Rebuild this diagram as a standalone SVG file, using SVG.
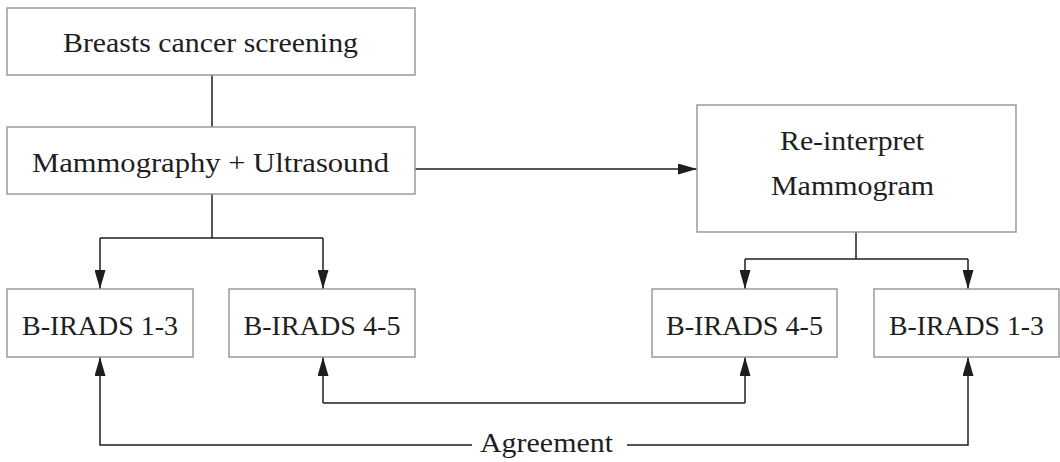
<svg xmlns="http://www.w3.org/2000/svg" width="1060" height="462" viewBox="0 0 1060 462">
<style>
.box{fill:#fff;stroke:#9a9a9a;stroke-width:1.5}
.t{font-family:"Liberation Serif","Times New Roman",serif;font-size:27px;fill:#1e1e1e;text-anchor:middle}
.c{fill:none;stroke:#1e1e1e;stroke-width:1.5}
</style>
<defs>
<marker id="ah" viewBox="0 0 19 11" refX="19" refY="5.5" markerWidth="19" markerHeight="11" markerUnits="userSpaceOnUse" orient="auto">
<path d="M0,0 L19,5.5 L0,11 Z" fill="#1e1e1e"/>
</marker>
</defs>
<rect width="1060" height="462" fill="#fff"/>
<g id="connectors">
<line class="c" x1="212" y1="75" x2="212" y2="127"/>
<path class="c" d="M212,194 V238"/>
<path class="c" d="M100,238 H323"/>
<path class="c" d="M100,238 V289" marker-end="url(#ah)"/>
<path class="c" d="M323,238 V289" marker-end="url(#ah)"/>
<path class="c" d="M415,169 H697" marker-end="url(#ah)"/>
<path class="c" d="M856,232 V259"/>
<path class="c" d="M745,259 H968"/>
<path class="c" d="M745,259 V289" marker-end="url(#ah)"/>
<path class="c" d="M968,259 V289" marker-end="url(#ah)"/>
<path class="c" d="M323,403 H745"/>
<path class="c" d="M323,403 V357" marker-end="url(#ah)"/>
<path class="c" d="M745,403 V357" marker-end="url(#ah)"/>
<path class="c" d="M472,445 H100 V357" marker-end="url(#ah)"/>
<path class="c" d="M627,445 H968 V357" marker-end="url(#ah)"/>
<text class="t" x="546.5" y="452" textLength="133" lengthAdjust="spacingAndGlyphs">Agreement</text>
</g>
<g id="screening">
<rect class="box" x="7" y="8" width="408" height="67"/>
<text class="t" x="210.5" y="52" textLength="295" lengthAdjust="spacingAndGlyphs">Breasts cancer screening</text>
</g>
<g id="mammo-us">
<rect class="box" x="7" y="127" width="408" height="67"/>
<text class="t" x="210.5" y="172" textLength="357" lengthAdjust="spacingAndGlyphs">Mammography + Ultrasound</text>
</g>
<g id="reinterpret">
<rect class="box" x="697" y="105" width="319" height="127"/>
<text class="t" x="852" y="150" textLength="144" lengthAdjust="spacingAndGlyphs">Re-interpret</text>
<text class="t" x="852.5" y="195" textLength="163" lengthAdjust="spacingAndGlyphs">Mammogram</text>
</g>
<g id="left13">
<rect class="box" x="7" y="289" width="186" height="68"/>
<text class="t" x="100" y="335" textLength="156" lengthAdjust="spacingAndGlyphs">B-IRADS 1-3</text>
</g>
<g id="left45">
<rect class="box" x="229" y="289" width="186" height="68"/>
<text class="t" x="322" y="335" textLength="157" lengthAdjust="spacingAndGlyphs">B-IRADS 4-5</text>
</g>
<g id="right45">
<rect class="box" x="652" y="289" width="185" height="68"/>
<text class="t" x="744.5" y="335" textLength="157" lengthAdjust="spacingAndGlyphs">B-IRADS 4-5</text>
</g>
<g id="right13">
<rect class="box" x="874" y="289" width="185" height="68"/>
<text class="t" x="966.5" y="335" textLength="155" lengthAdjust="spacingAndGlyphs">B-IRADS 1-3</text>
</g>
</svg>
